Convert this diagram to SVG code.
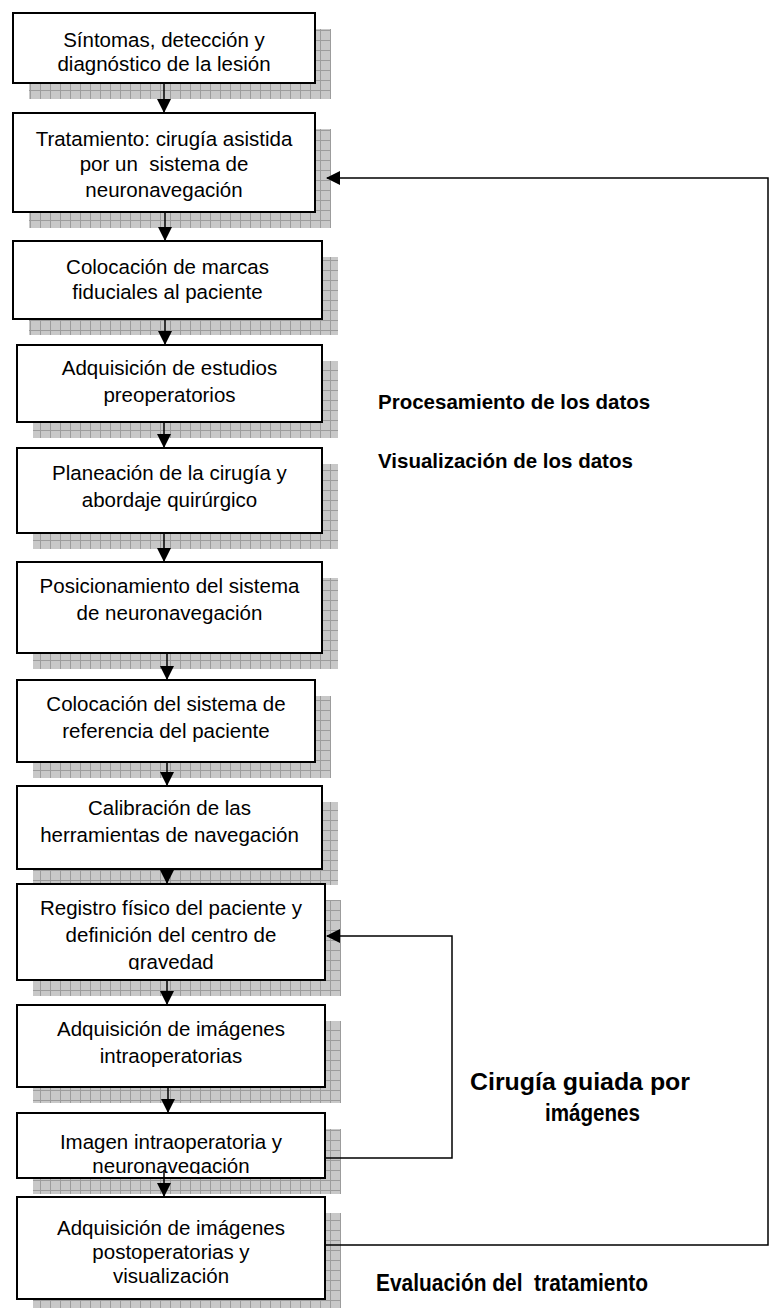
<svg xmlns="http://www.w3.org/2000/svg" width="775" height="1308" viewBox="0 0 775 1308">
<style>
.box{fill:#fff;stroke:#000;stroke-width:2}
.sh{fill:url(#grid)}
.t{font-family:"Liberation Sans",Arial,sans-serif;font-size:20.5px;fill:#000;text-anchor:middle}
.lbl{font-family:"Liberation Sans",Arial,sans-serif;font-size:20.5px;font-weight:bold;fill:#000;white-space:pre}
.c{fill:none;stroke:#000;stroke-width:1.5}
</style>
<defs>
<pattern id="grid" width="10" height="10" patternUnits="userSpaceOnUse">
<rect width="10" height="10" fill="#c8c8c8"/>
<path d="M0 0.5H10M0.5 0V10" stroke="#9c9c9c" stroke-width="1"/>
</pattern>
<marker id="ah" markerWidth="14" markerHeight="14" refX="13" refY="7" orient="auto" markerUnits="userSpaceOnUse"><path d="M0 0L14 7L0 14z" fill="#000"/></marker>
<clipPath id="clip9"><rect x="17" y="884" width="308" height="86"/></clipPath>
<clipPath id="clip11"><rect x="17" y="1113" width="308" height="61"/></clipPath>
</defs>
<rect width="775" height="1308" fill="#fff"/>

<g id="n1"><rect class="sh" x="29" y="29" width="302" height="70"/><rect class="box" x="13" y="13" width="302" height="70"/>
<text class="t" x="164" y="47">Síntomas, detección y</text><text class="t" x="164" y="71">diagnóstico de la lesión</text></g>

<g id="n2"><rect class="sh" x="29" y="129" width="302" height="99"/><rect class="box" x="13" y="113" width="302" height="99"/>
<text class="t" x="164" y="146">Tratamiento: cirugía asistida</text><text class="t" x="164" y="171" xml:space="preserve">por un  sistema de</text><text class="t" x="164" y="197">neuronavegación</text></g>

<g id="n3"><rect class="sh" x="29" y="257" width="309" height="78"/><rect class="box" x="13" y="241" width="309" height="78"/>
<text class="t" x="167.5" y="274">Colocación de marcas</text><text class="t" x="167.5" y="299">fiduciales al paciente</text></g>

<g id="n4"><rect class="sh" x="33" y="361" width="305" height="77"/><rect class="box" x="17" y="345" width="305" height="77"/>
<text class="t" x="169.5" y="375">Adquisición de estudios</text><text class="t" x="169.5" y="402">preoperatorios</text></g>

<g id="n5"><rect class="sh" x="33" y="464" width="305" height="85"/><rect class="box" x="17" y="448" width="305" height="85"/>
<text class="t" x="169.5" y="480">Planeación de la cirugía y</text><text class="t" x="169.5" y="507">abordaje quirúrgico</text></g>

<g id="n6"><rect class="sh" x="33" y="578" width="305" height="91"/><rect class="box" x="17" y="562" width="305" height="91"/>
<text class="t" x="169.5" y="593">Posicionamiento del sistema</text><text class="t" x="169.5" y="620">de neuronavegación</text></g>

<g id="n7"><rect class="sh" x="33" y="696" width="298" height="82"/><rect class="box" x="17" y="680" width="298" height="82"/>
<text class="t" x="166" y="711">Colocación del sistema de</text><text class="t" x="166" y="738">referencia del paciente</text></g>

<g id="n8"><rect class="sh" x="33" y="802" width="305" height="83"/><rect class="box" x="17" y="786" width="305" height="83"/>
<text class="t" x="169.5" y="815">Calibración de las</text><text class="t" x="169.5" y="842">herramientas de navegación</text></g>

<g id="n9"><rect class="sh" x="33" y="900" width="308" height="96"/><rect class="box" x="17" y="884" width="308" height="96"/>
<g clip-path="url(#clip9)"><text class="t" x="171" y="915">Registro físico del paciente y</text><text class="t" x="171" y="942">definición del centro de</text><text class="t" x="171" y="969">gravedad</text></g></g>

<g id="n10"><rect class="sh" x="33" y="1021" width="308" height="82"/><rect class="box" x="17" y="1005" width="308" height="82"/>
<text class="t" x="171" y="1036">Adquisición de imágenes</text><text class="t" x="171" y="1063">intraoperatorias</text></g>

<g id="n11"><rect class="sh" x="33" y="1129" width="308" height="65"/><rect class="box" x="17" y="1113" width="308" height="65"/>
<g clip-path="url(#clip11)"><text class="t" x="171" y="1149">Imagen intraoperatoria y</text><text class="t" x="171" y="1173">neuronavegación</text></g></g>

<g id="n12"><rect class="sh" x="33" y="1213" width="308" height="102"/><rect class="box" x="17" y="1197" width="308" height="102"/>
<text class="t" x="171" y="1235">Adquisición de imágenes</text><text class="t" x="171" y="1259">postoperatorias y</text><text class="t" x="171" y="1283">visualización</text></g>

<g id="connectors">
<path class="c" d="M164 84V112" marker-end="url(#ah)"/>
<path class="c" d="M165 213V240" marker-end="url(#ah)"/>
<path class="c" d="M165 320V344" marker-end="url(#ah)"/>
<path class="c" d="M164 423V447" marker-end="url(#ah)"/>
<path class="c" d="M164 534V561" marker-end="url(#ah)"/>
<path class="c" d="M167 654V679" marker-end="url(#ah)"/>
<path class="c" d="M167 763V785" marker-end="url(#ah)"/>
<path class="c" d="M167 870V883" marker-end="url(#ah)"/>
<path class="c" d="M167 981V1004" marker-end="url(#ah)"/>
<path class="c" d="M168 1088V1112" stroke="#555" marker-end="url(#ah)"/>
<path class="c" d="M164 1170V1196" marker-end="url(#ah)"/>
<path class="c" d="M326 1158H452V936H327" marker-end="url(#ah)"/>
<path class="c" d="M326 1245H768V178H327" marker-end="url(#ah)"/>
</g>

<g id="labels">
<text class="lbl" x="378" y="409">Procesamiento de los datos</text>
<text class="lbl" x="378" y="468">Visualización de los datos</text>
<text class="lbl" x="470" y="1090" textLength="220" lengthAdjust="spacingAndGlyphs" style="font-size:23px">Cirugía guiada por</text>
<text class="lbl" x="545" y="1121" textLength="95" lengthAdjust="spacingAndGlyphs" style="font-size:23px">imágenes</text>
<text class="lbl" x="376" y="1291" textLength="272" lengthAdjust="spacingAndGlyphs" style="font-size:23px" xml:space="preserve">Evaluación del  tratamiento</text>
</g>
</svg>
